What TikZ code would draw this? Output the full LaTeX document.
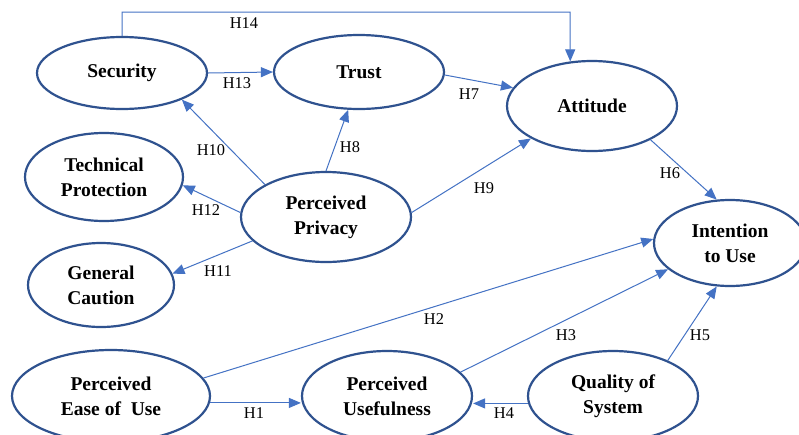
\documentclass[tikz,border=0pt]{standalone}
\usepackage{fontspec}
\setmainfont{Liberation Serif}
\usetikzlibrary{shapes.geometric,arrows.meta}
\definecolor{ellblue}{HTML}{2F528F}
\definecolor{lineblue}{HTML}{4472C4}
\begin{document}
\begin{tikzpicture}[x=1pt,y=-1pt,
 construct/.style={ellipse,draw=ellblue,line width=2.2pt,inner sep=0pt,align=center,
   font=\bfseries\fontsize{19.5}{25}\selectfont},
 conn/.style={draw=lineblue,line width=1pt,-{Triangle[length=12pt,width=10pt]}},
 hlabel/.style={font=\fontsize{16.4}{18}\selectfont,inner sep=0pt}]
\useasboundingbox (0,0) rectangle (799,434);
\fill[white] (0,0) rectangle (799,434);
\clip (0,0) rectangle (799,434);
% constructs
\node[construct,minimum width=170pt,minimum height=72pt] (sec) at (122,73) {Security};
\node[construct,minimum width=170pt,minimum height=74pt] (trust) at (359,72) {Trust};
\node[construct,minimum width=158pt,minimum height=88pt] (tp) at (104,177) {Technical\\Protection};
\node[construct,minimum width=170pt,minimum height=90pt] (pp) at (326,217) {Perceived\\Privacy};
\node[construct,minimum width=170pt,minimum height=90pt] (att) at (592,106) {Attitude};
\node[construct,minimum width=152pt,minimum height=86pt] (itu) at (730,243) {Intention\\to Use};
\node[construct,minimum width=146pt,minimum height=84pt] (gc) at (101,285) {General\\Caution};
\node[construct,minimum width=198pt,minimum height=92pt] (peu) at (111,396) {Perceived\\Ease of~ Use};
\node[construct,minimum width=170pt,minimum height=90pt] (pu) at (387,396) {Perceived\\Usefulness};
\node[construct,minimum width=170pt,minimum height=90pt] (qos) at (613,396) {Quality of\\System};
% connectors
\coordinate (h14b) at (570,12);
\draw[conn] (sec.north) |- (h14b) -- (att.116);
\draw[conn] (sec.east) -- (trust.west);
\draw[conn] (trust.-2) -- (att.167);
\draw[conn] (pp.152) -- (sec.-24);
\draw[conn] (pp.north) -- (trust.254);
\draw[conn] (pp.177) -- (tp.-6);
\draw[conn] (pp.198) -- (gc.9);
\draw[conn] (pp.3) -- (att.208);
\draw[conn] (att.-30) -- (itu.107);
\draw[conn] (peu.11) -- (itu.177);
\draw[conn] (pu.18) -- (itu.203);
\draw[conn] (qos.33) -- (itu.253);
\draw[conn] (qos.185) -- (qos.185 -| pu.east);
\draw[conn] (peu.-4) -- (peu.-4 -| pu.west);
% labels
\node[hlabel] (l14) at (244,23) {H14};
\node[hlabel] (l13) at (237,83) {H13};
\node[hlabel] (l7) at (469,94) {H7};
\node[hlabel] (l10) at (211,150) {H10};
\node[hlabel] (l8) at (350,147) {H8};
\node[hlabel] (l12) at (206,210) {H12};
\node[hlabel] (l11) at (218,271) {H11};
\node[hlabel] (l9) at (484,188) {H9};
\node[hlabel] (l6) at (670,173) {H6};
\node[hlabel] (l2) at (434,319) {H2};
\node[hlabel] (l3) at (566,335) {H3};
\node[hlabel] (l5) at (700,335) {H5};
\node[hlabel] (l4) at (504,413) {H4};
\node[hlabel] (l1) at (254,413) {H1};
\end{tikzpicture}
\end{document}
